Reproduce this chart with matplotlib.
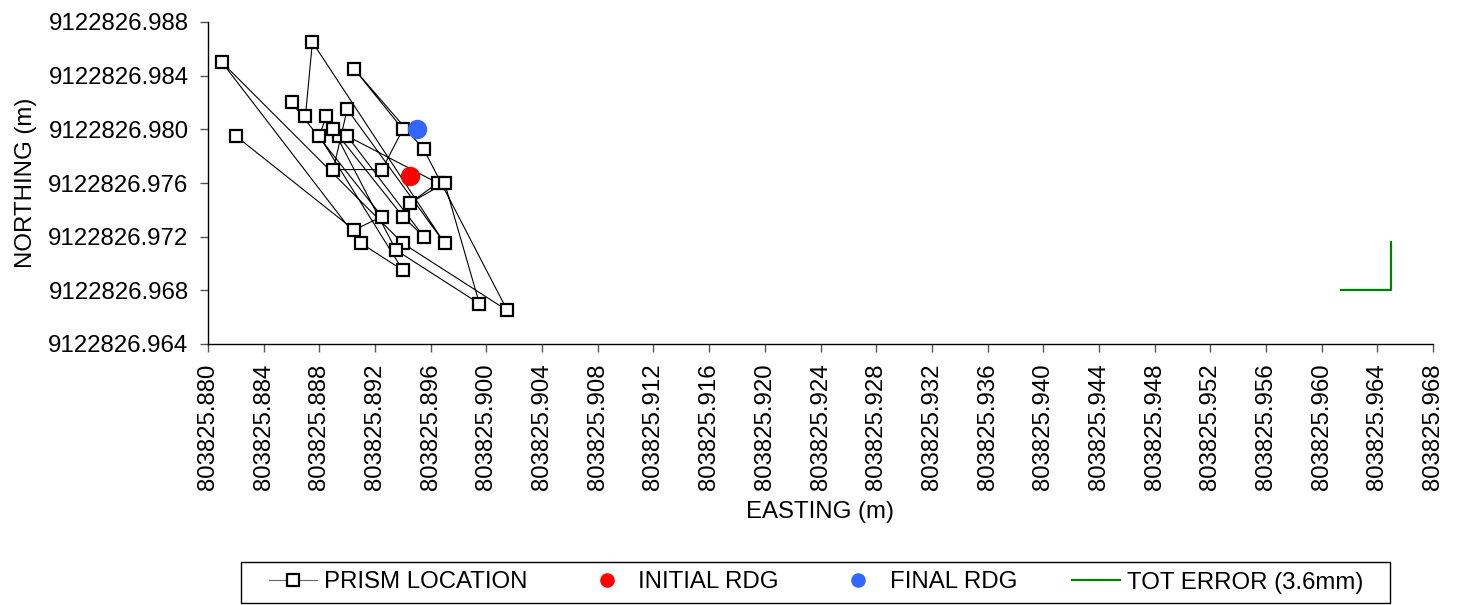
import matplotlib
matplotlib.use("Agg")
import matplotlib.pyplot as plt
from matplotlib.patches import Rectangle
import numpy as np

plt.rcParams['font.family'] = ['Liberation Sans', 'DejaVu Sans']

E0 = 803825.0
N0 = 9122826.0

# prism readings in sequence (decimal parts of easting / northing, m)
prism_e = [0.8820, 0.8905, 0.8925, 0.8860, 0.8870, 0.8875, 0.8970, 0.8900,
           0.8890, 0.8925, 0.8940, 0.8905, 0.8955, 0.9015, 0.8940, 0.8810,
           0.8910, 0.8940, 0.8880, 0.8885, 0.8894, 0.8940, 0.8955, 0.8900,
           0.8965, 0.8945, 0.8970, 0.8995, 0.8935, 0.8890]
prism_n = [0.9795, 0.9725, 0.9735, 0.9820, 0.9810, 0.9865, 0.9715, 0.9815,
           0.9770, 0.9770, 0.9800, 0.9845, 0.9785, 0.9665, 0.9715, 0.9850,
           0.9715, 0.9695, 0.9795, 0.9810, 0.9795, 0.9735, 0.9720, 0.9795,
           0.9760, 0.9745, 0.9760, 0.9670, 0.9710, 0.9800]

initial_e, initial_n = 0.8945, 0.9765
final_e, final_n = 0.8950, 0.9800

tot_err_e = [0.9614, 0.9650, 0.9650]
tot_err_n = [0.9680, 0.9680, 0.9716]

x_ticks = [0.880 + 0.004 * i for i in range(23)]
y_ticks = [0.964 + 0.004 * i for i in range(7)]

FS = 17.3
W, H = 1461, 605

fig = plt.figure(figsize=(14.61, 6.05), dpi=100)
ax = fig.add_axes([208/W, 1-344/H, (1433-208)/W, (344-22)/H])

px = [E0 + v for v in prism_e]
py = [N0 + v for v in prism_n]
ax.plot(px, py, color='black', lw=0.8, marker='s', ms=9, mfc='white',
        mec='black', mew=1.6, label='PRISM LOCATION', zorder=3)
ax.plot([E0 + initial_e], [N0 + initial_n], 'o', color='#FF0000', ms=14,
        label='INITIAL RDG', zorder=4, mec='none')
ax.plot([E0 + final_e], [N0 + final_n], 'o', color='#3366FF', ms=14,
        label='FINAL RDG', zorder=4, mec='none')
ax.plot([E0 + v for v in tot_err_e], [N0 + v for v in tot_err_n],
        color='#008000', lw=1.6, label='TOT ERROR (3.6mm)', zorder=3)

ax.set_xlim(E0 + 0.880, E0 + 0.968)
ax.set_ylim(N0 + 0.964, N0 + 0.988)
ax.set_xticks([E0 + v for v in x_ticks])
ax.set_xticklabels(['%.3f' % (E0 + v) for v in x_ticks], rotation=90)
ax.set_yticks([N0 + v for v in y_ticks])
ax.set_yticklabels(['%.3f' % (N0 + v) for v in y_ticks])
ax.tick_params(axis='both', labelsize=FS, direction='out', length=5.5,
               width=1, color='#555555', pad=8.5)
for s in ['top', 'right']:
    ax.spines[s].set_visible(False)
for s in ['left', 'bottom']:
    ax.spines[s].set_color('black')
    ax.spines[s].set_linewidth(1.0)

ax.set_xlabel('EASTING (m)', fontsize=FS, labelpad=8)
ax.set_ylabel('NORTHING (m)', fontsize=FS, labelpad=8)

# legend frame drawn separately to match the wide padding of the original
fig.patches.append(Rectangle((241/W, 1-603/H), (1390-241)/W, 41/H,
                             transform=fig.transFigure, fill=False,
                             edgecolor='black', lw=1.0))

handles, labels = ax.get_legend_handles_labels()
leg = fig.legend(handles, labels, loc='center', ncol=4,
                 bbox_to_anchor=(816.5/W, 1-582.5/H), fontsize=FS,
                 frameon=False, columnspacing=2.3, handlelength=2.0,
                 handletextpad=0.3, borderpad=0.4, markerscale=0.75)
leg.legend_handles[0].set_markersize(8)
leg.legend_handles[0].set_color('#666666')
leg.legend_handles[0].set_markeredgecolor('black')

fig.savefig('out.png', dpi=100)
